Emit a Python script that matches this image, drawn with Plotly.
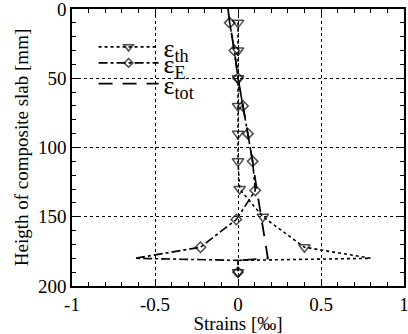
import plotly.graph_objects as go

# epsilon_th (thermal strain)
th_y = [10, 30, 50, 70, 90, 110, 130, 150, 172, 180, 181.5, 190]
th_x = [0, 0, 0, 0, 0, 0, 0.01, 0.15, 0.40, 0.80, 0, 0]
th_mark = [1, 1, 1, 1, 1, 1, 1, 1, 1, 0, 0, 1]

# epsilon_E (elastic strain)
e_y = [10, 30, 50, 70, 90, 110, 131, 152, 172, 180, 181.5, 190]
e_x = [-0.05, -0.022, 0, 0.03, 0.06, 0.088, 0.104, -0.01, -0.226, -0.62, 0.0, 0]
e_mark = [1, 1, 1, 1, 1, 1, 1, 1, 1, 0, 0, 1]

# epsilon_tot (total strain)
tot_y = [0, 10, 30, 50, 70, 90, 110, 131, 150, 172, 180, 181.5]
tot_x = [-0.06, -0.05, -0.022, 0, 0.03, 0.06, 0.088, 0.114, 0.14, 0.17, 0.18, 0.0]

x_ticks = [-1, -0.5, 0, 0.5, 1]
x_labels = ["-1", "-0.5", "0", "0.5", "1"]
y_ticks = [0, 50, 100, 150, 200]

FONT = "Liberation Serif, Times New Roman, serif"

fig = go.Figure()
fig.add_trace(go.Scatter(
    x=th_x, y=th_y, mode="lines+markers", name="ε<sub>th</sub>", legend="legend",
    line=dict(color="black", width=1.6, dash="dot"),
    marker=dict(symbol="triangle-down-open", size=[10 * m for m in th_mark],
                color="black", line=dict(width=1.5, color="black")),
))
fig.add_trace(go.Scatter(
    x=e_x, y=e_y, mode="lines+markers", name="ε<sub>E</sub>", legend="legend2",
    line=dict(color="black", width=1.6, dash="dashdot"),
    marker=dict(symbol="diamond-open", size=[8 * m for m in e_mark],
                color="black", line=dict(width=1.5, color="black")),
))
fig.add_trace(go.Scatter(
    x=tot_x, y=tot_y, mode="lines", name="ε<sub>tot</sub>", legend="legend3",
    line=dict(color="black", width=1.8, dash="14px,10px"),
))

axis_common = dict(
    showline=True, linecolor="black", linewidth=1.5, mirror="ticks",
    ticks="inside", tickcolor="black", ticklen=7, tickwidth=1.2,
    showgrid=True, gridcolor="black", griddash="dot", gridwidth=1,
    zeroline=False, automargin=False, ticklabeloverflow="allow",
    tickfont=dict(family=FONT, size=19, color="black"),
)

fig.update_xaxes(
    **axis_common, range=[-1, 1], tickvals=x_ticks, ticktext=x_labels,
    minor=dict(dtick=0.1, ticks="inside", ticklen=4, tickcolor="black", showgrid=False),
    title=dict(text="Strains [‰]", font=dict(family=FONT, size=19, color="black"), standoff=0),
)
fig.update_yaxes(
    **axis_common, range=[200, 0], tickvals=y_ticks,
    minor=dict(dtick=10, ticks="inside", ticklen=4, tickcolor="black", showgrid=False),
    title=dict(text="Heigth of composite slab [mm]", font=dict(family=FONT, size=19, color="black"), standoff=4),
)

leg_common = dict(xanchor="left", yanchor="middle", bgcolor="rgba(255,255,255,0)",
                  borderwidth=0, font=dict(family=FONT, size=26, color="black"),
                  itemwidth=60)

fig.update_layout(
    width=408, height=334,
    margin=dict(l=72, r=4, t=9, b=48),
    paper_bgcolor="white", plot_bgcolor="white",
    showlegend=True,
    legend=dict(x=0.065, y=0.863, **leg_common),
    legend2=dict(x=0.065, y=0.805, **leg_common),
    legend3=dict(x=0.065, y=0.73, **leg_common),
    font=dict(family=FONT, color="black"),
)

fig.write_html("out.html", config={"displayModeBar": False},
               post_script="document.body.style.margin='0';document.body.style.overflow='hidden';")
